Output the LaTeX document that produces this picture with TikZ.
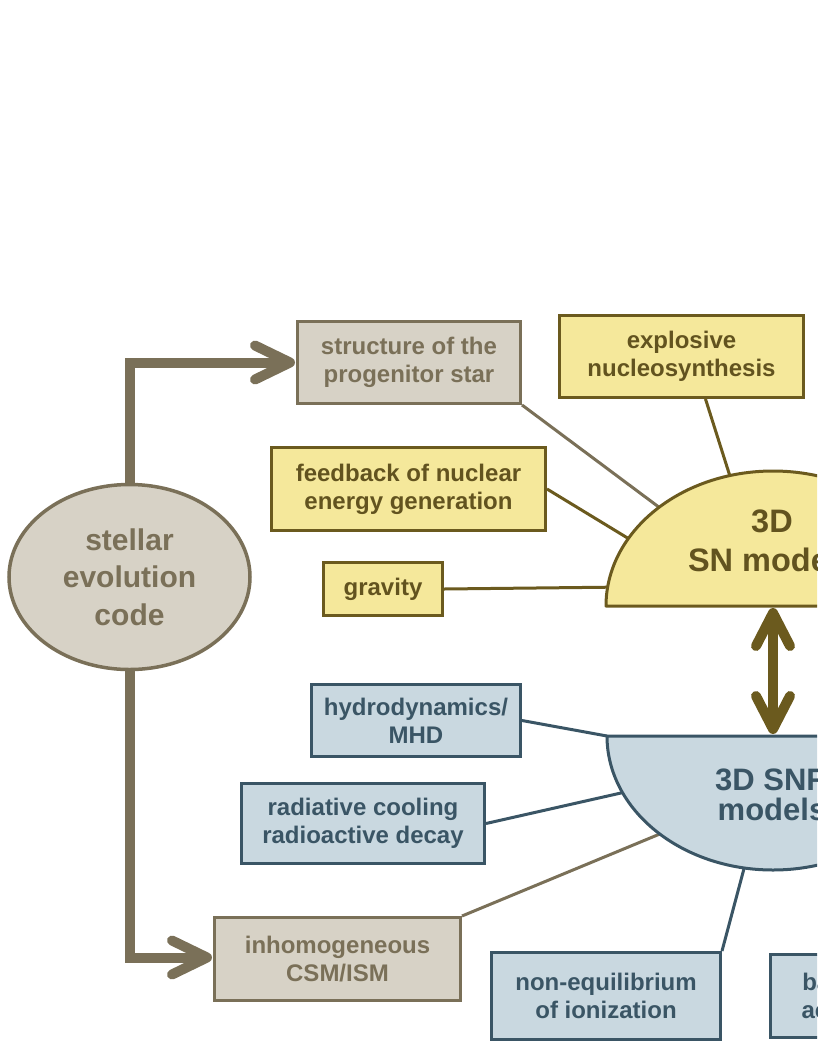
\documentclass[tikz,border=0pt]{standalone}
\usepackage{fontspec}
\setmainfont{Liberation Sans}
\usetikzlibrary{shapes.geometric,calc,backgrounds}
\definecolor{tanfill}{HTML}{D7D2C6}
\definecolor{tanline}{HTML}{7A7058}
\definecolor{yelfill}{HTML}{F5E89B}
\definecolor{yelline}{HTML}{6B5A1E}
\definecolor{yeltext}{HTML}{62531F}
\definecolor{bluefill}{HTML}{C9D8E0}
\definecolor{blueline}{HTML}{3A5565}
\newcommand\bxfont{\fontsize{24}{28}\selectfont\bfseries}
\newcommand\bgfont{\fontsize{32.5}{39}\selectfont\bfseries}
\tikzset{
  box/.style={draw, line width=3pt, inner sep=0pt, align=center, font=\bxfont},
  tanbox/.style={box, draw=tanline, fill=tanfill, text=tanline},
  yelbox/.style={box, draw=yelline, fill=yelfill, text=yeltext},
  bluebox/.style={box, draw=blueline, fill=bluefill, text=blueline},
  link/.style={line width=3pt},
  bigline/.style={line width=10pt, line join=miter},
  chev/.style={line width=10pt, line cap=round, line join=round},
}
\begin{document}
\begin{tikzpicture}[x=1pt,y=-1pt]
\useasboundingbox (0,0) rectangle (817,1058);
\clip (0,0) rectangle (817,1058);

% half discs
\coordinate (cSN) at (773,606);
\coordinate (cSNR) at (773,736);
\draw[line width=3pt, draw=yelline, fill=yelfill, line join=round]
  ($(cSN)+(-167,0)$) arc[start angle=180, end angle=0, x radius=167pt, y radius=135pt] -- cycle;
\draw[line width=3pt, draw=blueline, fill=bluefill, line join=round]
  ($(cSNR)+(-166,0)$) arc[start angle=180, end angle=360, x radius=166pt, y radius=134pt] -- cycle;
\node[text=yeltext, font=\bgfont, align=center] (snlabel) at (772,541) {3D\\SN models};
\node[text=blueline, font=\fontsize{31}{30}\selectfont\bfseries, align=center] (snrlabel) at (772,795) {3D SNR\\models};

% points on the arcs
\coordinate (snA105) at ($(cSN)+(105:167pt and 135pt)$);
\coordinate (snA133) at ($(cSN)+(133:167pt and 135pt)$);
\coordinate (snA150) at ($(cSN)+(150:167pt and 135pt)$);
\coordinate (snA172) at ($(cSN)+(172:167pt and 135pt)$);
\coordinate (snrL) at ($(cSNR)+(-166,0)$);
\coordinate (snrA205) at ($(cSNR)+(205:166pt and 134pt)$);
\coordinate (snrA227) at ($(cSNR)+(227:166pt and 134pt)$);
\coordinate (snrA260) at ($(cSNR)+(260:166pt and 134pt)$);

% stellar evolution code
\node[ellipse, draw=tanline, fill=tanfill, line width=3.5pt, minimum width=241, minimum height=185,
      inner sep=0pt, text=tanline, align=center, font=\fontsize{30}{37.5}\selectfont\bfseries]
      (sec) at (129.5,577) {stellar\\evolution\\code};

% boxes
\node[tanbox, minimum width=223, minimum height=82] (struct) at (409,362.5) {structure of the\\progenitor star};
\node[yelbox, minimum width=244, minimum height=82] (expl) at (681.5,356.5) {explosive\\nucleosynthesis};
\node[yelbox, minimum width=274, minimum height=83] (feed) at (408.5,489) {feedback of nuclear\\energy generation};
\node[yelbox, minimum width=119, minimum height=53] (grav) at (383,589) {gravity};
\node[bluebox, minimum width=209, minimum height=72] (hydro) at (416,720.5) {hydrodynamics/\\MHD};
\node[bluebox, minimum width=243, minimum height=80] (rad) at (363,823.5) {radiative cooling\\radioactive decay};
\node[tanbox, minimum width=246, minimum height=83] (inhom) at (337.5,959) {inhomogeneous\\CSM/ISM};
\node[bluebox, minimum width=229, minimum height=87] (noneq) at (606,996) {non-equilibrium\\of ionization};
\node[bluebox, minimum width=249, minimum height=83] (accel) at (895,996) {back-reaction of\\accelerated CRs};

% connectors
\begin{pgfonlayer}{background}
\draw[link, tanline] (struct.south east) -- (snA133);
\draw[link, yelline] ($(expl.south)+(24,0)$) -- (snA105);
\draw[link, yelline] (feed.east) -- (snA150);
\draw[link, yelline] (grav.east) -- (snA172);
\draw[link, blueline] (hydro.east) -- (snrL);
\draw[link, blueline] (rad.east) -- (snrA205);
\draw[link, tanline] (inhom.north east) -- (snrA227);
\draw[link, blueline] (noneq.north east) -- (snrA260);
\end{pgfonlayer}

% thick arrows from the stellar evolution code
\coordinate (stTip) at ($(struct.west)+(-6,0)$);
\coordinate (inTip) at ($(inhom.west)+(-6,-1.5)$);
\draw[bigline, tanline] (sec.north) |- (stTip);
\draw[chev, tanline] ($(stTip)+(-35,-17)$) -- (stTip) -- ($(stTip)+(-35,17)$);
\draw[bigline, tanline] (sec.south) |- (inTip);
\draw[chev, tanline] ($(inTip)+(-35,-17)$) -- (inTip) -- ($(inTip)+(-35,17)$);

% double arrow between the models
\coordinate (snTip) at ($(cSN)+(0,7)$);
\coordinate (snrTip) at ($(cSNR)+(0,-7)$);
\draw[line width=10pt, yelline] (snTip) -- (snrTip);
\draw[chev, yelline] ($(snTip)+(-17,33)$) -- (snTip) -- ($(snTip)+(17,33)$);
\draw[chev, yelline] ($(snrTip)+(-17,-33)$) -- (snrTip) -- ($(snrTip)+(17,-33)$);
\end{tikzpicture}
\end{document}
